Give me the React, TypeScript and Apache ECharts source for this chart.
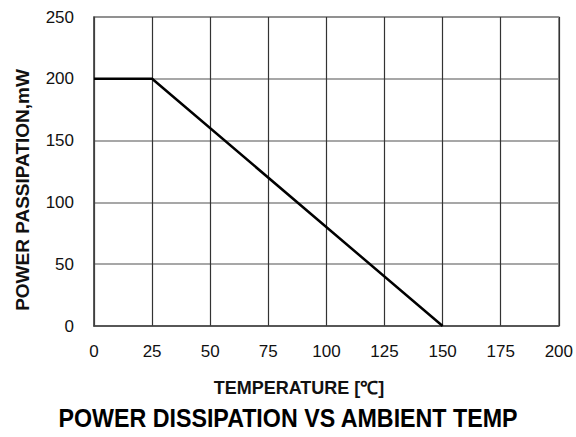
import React, { useEffect, useRef } from "react";
import * as echarts from "echarts";

const temperatures = [0, 25, 150];
const powerValues = [200, 200, 0];
const xTicks = { min: 0, max: 200, interval: 25 };
const yTicks = { min: 0, max: 250, interval: 50 };
const yTitle = "POWER PASSIPATION,mW";
const xTitle = "TEMPERATURE [℃]";
const chartTitle = "POWER DISSIPATION VS AMBIENT TEMP";

const FONT = "'Liberation Sans', Arial, sans-serif";

export default function App() {
  const ref = useRef<HTMLDivElement>(null);
  useEffect(() => {
    if (!ref.current) return;
    const chart = echarts.init(ref.current, null, { renderer: "svg" });
    chart.setOption({
      animation: false,
      backgroundColor: "#fff",
      grid: { left: 94, right: 15, top: 17, bottom: 111, show: true, borderColor: "#8a8a8a", borderWidth: 1.5 },
      xAxis: {
        type: "value",
        min: xTicks.min,
        max: xTicks.max,
        interval: xTicks.interval,
        axisLine: { show: true, lineStyle: { color: "#444", width: 1.5 } },
        axisTick: { show: false },
        axisLabel: { color: "#111", fontSize: 17, fontFamily: FONT, margin: 17 },
        splitLine: { show: true, lineStyle: { color: "#333", width: 1.2 } },
      },
      yAxis: {
        type: "value",
        min: yTicks.min,
        max: yTicks.max,
        interval: yTicks.interval,
        axisLine: { show: true, lineStyle: { color: "#444", width: 1.5 } },
        axisTick: { show: false },
        axisLabel: { color: "#111", fontSize: 17, fontFamily: FONT, margin: 20 },
        splitLine: { show: true, lineStyle: { color: "#8a8a8a", width: 1.5 } },
      },
      series: [
        {
          type: "line",
          data: temperatures.map((t, i) => [t, powerValues[i]]),
          showSymbol: false,
          lineStyle: { color: "#000", width: 2.5 },
        },
      ],
      graphic: [
        {
          type: "text",
          x: 22,
          y: 190,
          rotation: Math.PI / 2,
          style: {
            text: yTitle,
            fill: "#111",
            fontSize: 19,
            fontWeight: "bold",
            fontFamily: FONT,
            align: "center",
            verticalAlign: "middle",
          },
        },
        {
          type: "text",
          x: 299,
          y: 388,
          style: {
            text: xTitle,
            fill: "#111",
            fontSize: 18,
            fontWeight: "bold",
            fontFamily: FONT,
            align: "center",
            verticalAlign: "middle",
          },
        },
        {
          type: "text",
          x: 288,
          y: 418,
          scaleX: 0.93,
          style: {
            text: chartTitle,
            fill: "#000",
            fontSize: 25,
            fontWeight: "bold",
            fontFamily: FONT,
            align: "center",
            verticalAlign: "middle",
          },
        },
      ],
    });
    return () => chart.dispose();
  }, []);
  return <div ref={ref} style={{ width: 576, height: 437, position: "absolute", left: 0, top: 0 }} />;
}
